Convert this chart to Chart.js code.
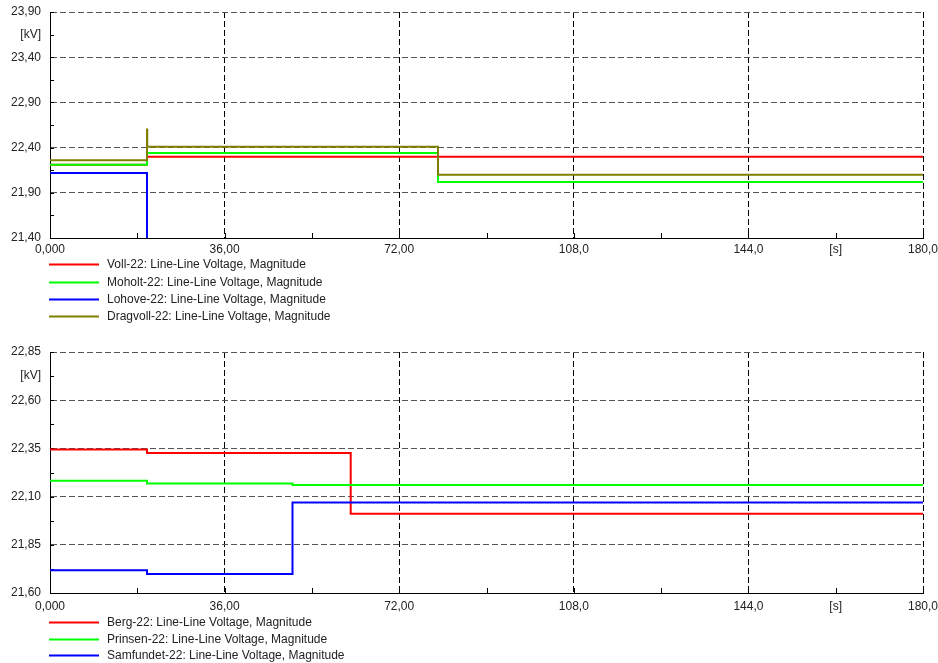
<!DOCTYPE html>
<html>
<head>
<meta charset="utf-8">
<script src="https://cdn.jsdelivr.net/npm/chart.js@4.4.0/dist/chart.umd.min.js"></script>
<style>
  html, body { margin: 0; padding: 0; background: #fff; }
  #wrap { position: relative; width: 938px; height: 663px; overflow: hidden; }
  canvas { position: absolute; left: 0; }
</style>
</head>
<body>
<div id="wrap">
  <canvas id="upper" width="938" height="330" style="top:0"></canvas>
  <canvas id="lower" width="938" height="333" style="top:330px"></canvas>
</div>
<script>
// Time axis [s]
const timeTicks  = [0, 18, 36, 54, 72, 90, 108, 126, 144, 162, 180];
const timeLabels = ['0,000', '', '36,00', '', '72,00', '', '108,0', '', '144,0', '[s]', '180,0'];

// Upper panel voltage axis [kV]
const upperTicks  = [21.40, 21.65, 21.90, 22.15, 22.40, 22.65, 22.90, 23.15, 23.40, 23.65, 23.90];
const upperLabels = ['21,40', '', '21,90', '', '22,40', '', '22,90', '', '23,40', '[kV]', '23,90'];

// Lower panel voltage axis [kV]
const lowerTicks  = [21.600, 21.725, 21.850, 21.975, 22.100, 22.225, 22.350, 22.475, 22.600, 22.725, 22.850];
const lowerLabels = ['21,60', '', '21,85', '', '22,10', '', '22,35', '', '22,60', '[kV]', '22,85'];

// Upper panel: line-line voltage, switching events at 20 s and 80 s
const vollTime      = [0, 20, 180];
const vollVolt      = [22.21, 22.30, 22.30];
const moholtTime    = [0, 20, 80, 180];
const moholtVolt    = [22.21, 22.34, 22.02, 22.02];
const lohoveTime    = [0, 20, 180];
const lohoveVolt    = [22.12, 0, 0];
const dragvollTime  = [0, 20, 20.05, 80, 180];
const dragvollVolt  = [22.26, 22.60, 22.41, 22.10, 22.10];

// Lower panel: line-line voltage, switching events at 20 s, 50 s and 62 s
const bergTime      = [0, 20, 62, 180];
const bergVolt      = [22.344, 22.326, 22.011, 22.011];
const prinsenTime   = [0, 20, 50, 180];
const prinsenVolt   = [22.182, 22.168, 22.160, 22.160];
const samfundetTime = [0, 20, 50, 180];
const samfundetVolt = [21.718, 21.699, 22.070, 22.070];

const FONT = '"Liberation Sans", Arial, sans-serif';
const TEXT = '#222';

function series(label, color, times, volts, order) {
  return {
    label,
    data: times.map((t, i) => ({ x: t, y: volts[i] })),
    borderColor: color,
    backgroundColor: color,
    borderWidth: 2,
    pointRadius: 0,
    stepped: true,
    fill: false,
    order
  };
}

// Small tick marks drawn inward from the left and bottom axes
const innerTicks = {
  id: 'innerTicks',
  beforeDatasetsDraw(chart) {
    const { ctx, chartArea: a, scales: { x, y } } = chart;
    ctx.save();
    ctx.strokeStyle = '#000';
    ctx.lineWidth = 1;
    ctx.beginPath();
    x.ticks.forEach(t => {
      const px = Math.round(x.getPixelForValue(t.value)) + 0.5;
      ctx.moveTo(px, a.bottom);
      ctx.lineTo(px, a.bottom - 5);
    });
    y.ticks.forEach(t => {
      const py = Math.round(y.getPixelForValue(t.value)) + 0.5;
      ctx.moveTo(a.left, py);
      ctx.lineTo(a.left + 4, py);
    });
    ctx.stroke();
    ctx.restore();
  }
};

// Legend: one row per series beneath the plot
const lineLegend = {
  id: 'lineLegend',
  afterDraw(chart, args, opts) {
    const { ctx, chartArea: a } = chart;
    ctx.save();
    ctx.font = '12px ' + FONT;
    ctx.textBaseline = 'middle';
    chart.data.datasets.forEach((ds, i) => {
      const yy = Math.round(a.bottom + opts.offset + i * opts.spacing) + 0.5;
      ctx.strokeStyle = ds.borderColor;
      ctx.lineWidth = 2;
      ctx.beginPath();
      ctx.moveTo(a.left - 1, yy);
      ctx.lineTo(a.left + 49, yy);
      ctx.stroke();
      ctx.fillStyle = TEXT;
      ctx.fillText(ds.label, a.left + 57, yy);
    });
    ctx.restore();
  }
};

function makeChart(id, datasets, yTicks, yLabels, padding, xPad, legendOpts) {
  return new Chart(document.getElementById(id), {
    type: 'line',
    data: { datasets },
    plugins: [innerTicks, lineLegend],
    options: {
      responsive: false,
      animation: false,
      events: [],
      layout: { padding },
      plugins: {
        legend: { display: false },
        tooltip: { enabled: false },
        lineLegend: legendOpts
      },
      scales: {
        x: {
          type: 'linear',
          min: 0,
          max: 180,
          afterBuildTicks: s => { s.ticks = timeTicks.map(v => ({ value: v })); },
          afterFit: s => { s.height = 20; s.paddingLeft = 0; s.paddingRight = 0; },
          ticks: {
            autoSkip: false,
            maxRotation: 0,
            padding: xPad,
            color: TEXT,
            font: { family: FONT, size: 12 },
            callback: (v, i) => timeLabels[i]
          },
          grid: {
            drawTicks: false,
            lineWidth: 1,
            color: c => (c.index > 0 && c.index % 2 === 0) ? '#000' : 'rgba(0,0,0,0)'
          },
          border: { display: true, color: '#000', width: 1, dash: [6, 3] }
        },
        y: {
          type: 'linear',
          min: yTicks[0],
          max: yTicks[yTicks.length - 1],
          afterBuildTicks: s => { s.ticks = yTicks.map(v => ({ value: v })); },
          afterFit: s => { s.width = 50; s.paddingTop = 0; s.paddingBottom = 0; },
          ticks: {
            autoSkip: false,
            padding: 9,
            color: TEXT,
            font: { family: FONT, size: 12 },
            callback: (v, i) => yLabels[i]
          },
          grid: {
            drawTicks: false,
            lineWidth: 1,
            color: c => (c.index > 0 && c.index % 2 === 0) ? '#555' : 'rgba(0,0,0,0)'
          },
          border: { display: true, color: '#000', width: 1, dash: [6, 3] }
        }
      }
    }
  });
}

makeChart('upper', [
  series('Voll-22: Line-Line Voltage, Magnitude',     '#ff0000', vollTime,     vollVolt,     4),
  series('Moholt-22: Line-Line Voltage, Magnitude',   '#00ff00', moholtTime,   moholtVolt,   3),
  series('Lohove-22: Line-Line Voltage, Magnitude',   '#0000ff', lohoveTime,   lohoveVolt,   2),
  series('Dragvoll-22: Line-Line Voltage, Magnitude', '#808000', dragvollTime, dragvollVolt, 1)
], upperTicks, upperLabels, { top: 12, right: 15, bottom: 72, left: 0 }, 4, { offset: 26.3, spacing: 17.3 });

makeChart('lower', [
  series('Berg-22: Line-Line Voltage, Magnitude',      '#ff0000', bergTime,      bergVolt,      3),
  series('Prinsen-22: Line-Line Voltage, Magnitude',   '#00ff00', prinsenTime,   prinsenVolt,   2),
  series('Samfundet-22: Line-Line Voltage, Magnitude', '#0000ff', samfundetTime, samfundetVolt, 1)
], lowerTicks, lowerLabels, { top: 22, right: 15, bottom: 50, left: 0 }, 6, { offset: 29, spacing: 16.5 });
</script>
</body>
</html>
